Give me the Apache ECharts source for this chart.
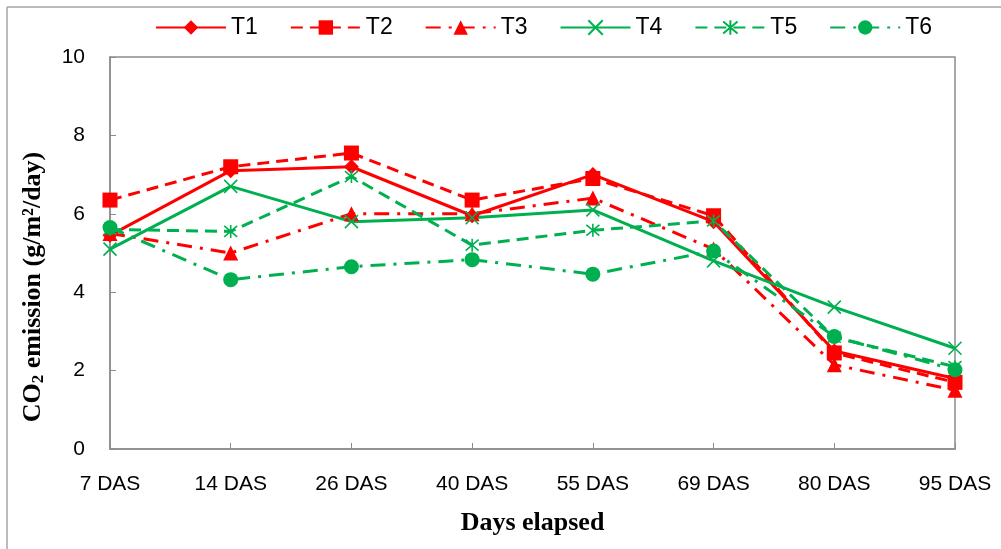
<!DOCTYPE html>
<html>
<head>
<meta charset="utf-8">
<script src="https://cdn.jsdelivr.net/npm/echarts@6/dist/echarts.min.js"></script>
<style>
  html, body { margin: 0; padding: 0; background: #ffffff; }
  #chart { width: 1001px; height: 549px; }
</style>
</head>
<body>
<div id="chart"></div>
<script>
// Sampling dates (days after sowing)
const categories = ['7 DAS', '14 DAS', '26 DAS', '40 DAS', '55 DAS', '69 DAS', '80 DAS', '95 DAS'];

// CO2 emission per treatment (g/m2/day)
const T1 = [5.45, 7.1, 7.2, 5.95, 7.0, 5.8, 2.5, 1.8];
const T2 = [6.35, 7.2, 7.55, 6.35, 6.9, 5.95, 2.45, 1.7];
const T3 = [5.5, 5.0, 6.0, 6.0, 6.4, 5.1, 2.15, 1.5];
const T4 = [5.1, 6.7, 5.8, 5.9, 6.1, 4.8, 3.62, 2.57];
const T5 = [5.6, 5.55, 6.95, 5.2, 5.58, 5.82, 2.85, 2.1];
const T6 = [5.65, 4.32, 4.65, 4.83, 4.46, 5.05, 2.87, 2.02];

const yTicks = { min: 0, max: 10, interval: 2 };

const RED = '#ff0000';
const GREEN = '#00b050';
const DASH = [12, 7];
const DASH_DOT = [15, 8, 3, 8];

const SYM_X = 'path://M0,0L10,10M10,0L0,10';
const SYM_STAR = 'path://M5,0L5,10M0.8,0.8L9.2,9.2M9.2,0.8L0.8,9.2';

const labelFont = '"Liberation Sans", Arial, sans-serif';
const titleFont = '"Liberation Serif", "Times New Roman", serif';

function makeSeries(name, data, color, dash, symbol, size, stroked) {
  return {
    name: name,
    type: 'line',
    data: data,
    symbol: symbol,
    symbolSize: size,
    showAllSymbol: true,
    lineStyle: { color: color, width: 3, type: dash },
    itemStyle: stroked
      ? { color: color, borderColor: color, borderWidth: 1.6 }
      : { color: color, borderWidth: 0 },
    emphasis: { disabled: true },
    animation: false
  };
}

const chart = echarts.init(document.getElementById('chart'), null, { renderer: 'canvas' });

chart.setOption({
  backgroundColor: '#ffffff',
  animation: false,
  grid: {
    left: 110, right: 46, top: 57, bottom: 100,
    show: true, borderColor: '#8c8c8c', borderWidth: 1.5, backgroundColor: 'transparent'
  },
  legend: {
    left: 150, top: 11,
    itemWidth: 70, itemHeight: 18, itemGap: 32,
    textStyle: { fontFamily: labelFont, fontSize: 23, color: '#000', width: 28, padding: [0, 0, 0, 0] },
    data: ['T1', 'T2', 'T3', 'T4', 'T5', 'T6']
  },
  xAxis: {
    type: 'category',
    data: categories,
    boundaryGap: false,
    axisLine: { lineStyle: { color: '#8c8c8c', width: 1.5 } },
    axisTick: { show: true, inside: true, length: 6, alignWithLabel: true, lineStyle: { color: '#8c8c8c', width: 1 } },
    axisLabel: { fontFamily: labelFont, fontSize: 21, color: '#000', margin: 25 },
    splitLine: { show: false },
    name: 'Days elapsed',
    nameLocation: 'middle',
    nameGap: 61,
    nameTextStyle: { fontFamily: titleFont, fontWeight: 'bold', fontSize: 26, color: '#000' }
  },
  yAxis: {
    type: 'value',
    min: yTicks.min, max: yTicks.max, interval: yTicks.interval,
    axisLine: { show: true, lineStyle: { color: '#8c8c8c', width: 1.5 } },
    axisTick: { show: true, inside: true, length: 6, lineStyle: { color: '#8c8c8c', width: 1 } },
    axisLabel: { fontFamily: labelFont, fontSize: 21, color: '#000', margin: 25 },
    splitLine: { show: false }
  },
  graphic: [
    // outer frame (top and left edges)
    { type: 'line', shape: { x1: 7, y1: 7, x2: 1001, y2: 7 }, style: { stroke: '#a6a6a6', lineWidth: 1.5 }, silent: true },
    { type: 'line', shape: { x1: 7, y1: 7, x2: 7, y2: 549 }, style: { stroke: '#a6a6a6', lineWidth: 1.5 }, silent: true },
    // y-axis title with subscript
    {
      type: 'text',
      x: 33, y: 287,
      rotation: Math.PI / 2,
      silent: true,
      style: {
        text: '{t|CO}{s|2}{t| emission (g/m²/day)}',
        align: 'center',
        verticalAlign: 'middle',
        rich: {
          t: { fontFamily: titleFont, fontWeight: 'bold', fontSize: 26, fill: '#000' },
          s: { fontFamily: titleFont, fontWeight: 'bold', fontSize: 17, fill: '#000', padding: [12, 0, 0, 0] }
        }
      }
    }
  ],
  series: [
    makeSeries('T1', T1, RED, 'solid', 'diamond', 15, false),
    makeSeries('T2', T2, RED, DASH, 'rect', 15, false),
    makeSeries('T3', T3, RED, DASH_DOT, 'triangle', 15, false),
    makeSeries('T4', T4, GREEN, 'solid', SYM_X, 13, true),
    makeSeries('T5', T5, GREEN, DASH, SYM_STAR, 13, true),
    makeSeries('T6', T6, GREEN, DASH_DOT, 'circle', 15, false)
  ]
});
</script>
</body>
</html>
